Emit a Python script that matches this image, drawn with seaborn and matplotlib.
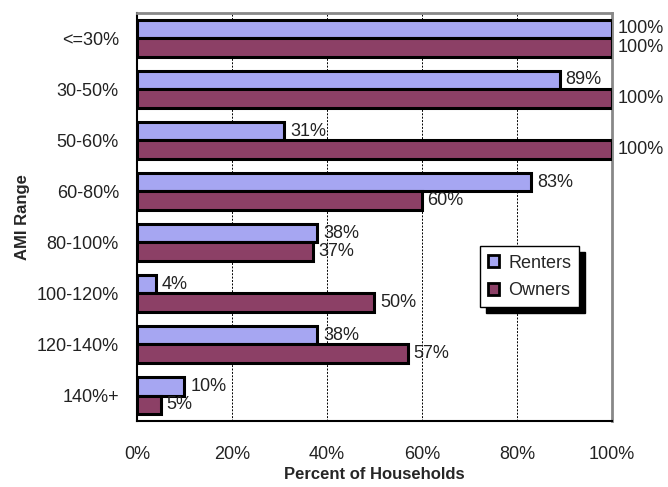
import pandas as pd
import numpy as np
import matplotlib
matplotlib.use("Agg")
import matplotlib.pyplot as plt
import seaborn as sns

# values
ami_ranges = ["<=30%", "30-50%", "50-60%", "60-80%", "80-100%", "100-120%", "120-140%", "140%+"]
renters = [100, 89, 31, 83, 38, 4, 38, 10]
owners = [100, 100, 100, 60, 37, 50, 57, 5]

df = pd.DataFrame({"AMI Range": ami_ranges * 2,
                   "pct": renters + owners,
                   "group": ["Renters"] * len(renters) + ["Owners"] * len(owners)})

sns.set_style("white")
plt.rcParams["font.family"] = ["Liberation Sans", "DejaVu Sans"]

fig = plt.figure(figsize=(6.68, 4.87), dpi=100)
ax = fig.add_axes([0.205, 0.1355, 0.711, 0.838])

sns.barplot(data=df, y="AMI Range", x="pct", hue="group", orient="h",
            palette={"Renters": "#9999FF", "Owners": "#993366"},
            edgecolor="black", linewidth=2.2, width=0.74, gap=0, ax=ax, zorder=3)

# value labels
for cont in ax.containers:
    for bar in cont:
        w = bar.get_width()
        yc = bar.get_y() + bar.get_height() / 2
        ax.text(w + 1.2, yc, f"{w:.0f}%", va="center", ha="left",
                fontsize=13, color="#222222", clip_on=False)

ax.set_xlim(0, 100)
ax.set_ylim(7.5, -0.5)
ax.set_xticks([0, 20, 40, 60, 80, 100])
ax.set_xticklabels([f"{t}%" for t in [0, 20, 40, 60, 80, 100]], fontsize=13, color="#222222")
ax.tick_params(axis="x", direction="out", length=5, width=1.2, color="black", pad=13)
ax.tick_params(axis="y", which="major", length=0, pad=13, labelsize=13, labelcolor="#222222")
ax.set_yticks(np.arange(-0.5, 8.0, 1.0), minor=True)
ax.tick_params(axis="y", which="minor", direction="out", length=5, width=1.2, color="black")

for x in [20, 40, 60, 80]:
    ax.axvline(x, color="black", linestyle=(0, (2, 1.5)), linewidth=0.7, zorder=1)

for s in ["left", "bottom"]:
    ax.spines[s].set_color("black")
    ax.spines[s].set_linewidth(1.5)
for s in ["top", "right"]:
    ax.spines[s].set_color("#888888")
    ax.spines[s].set_linewidth(2)

ax.set_xlabel("Percent of Households", fontsize=12, fontweight="bold", labelpad=3)
ax.set_ylabel("AMI Range", fontsize=12, fontweight="bold", labelpad=5)

leg = ax.legend(loc="center", bbox_to_anchor=(0.827, 0.353), frameon=True,
                shadow={"color": "black", "alpha": 1, "ox": 4, "oy": -4},
                fancybox=False, fontsize=13, handlelength=0.6, handleheight=0.6,
                handletextpad=0.5, borderpad=0.45, labelspacing=0.6, edgecolor="black")
leg.get_frame().set_linewidth(1)
for h in leg.legend_handles:
    h.set_linewidth(2)

fig.savefig("out.png", dpi=100)
